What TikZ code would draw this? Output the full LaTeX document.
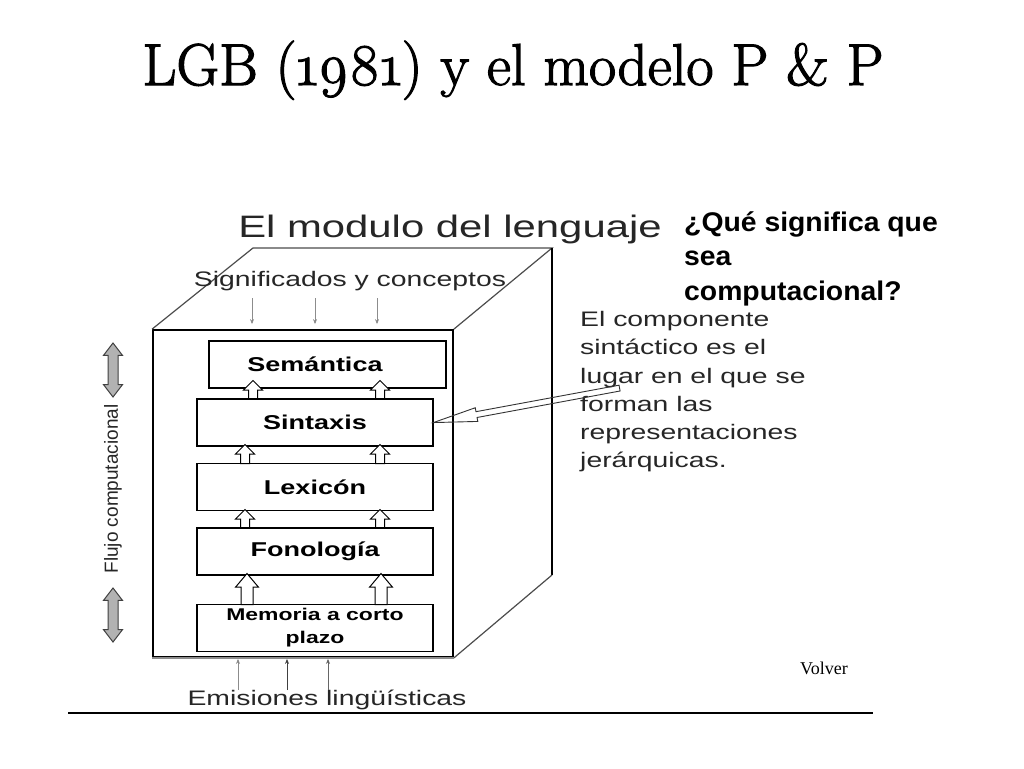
\documentclass[tikz,border=0pt]{standalone}
\usepackage{fontspec}
\usepackage{tikz}
\usetikzlibrary{arrows.meta}
\usetikzlibrary{shapes.arrows}
\usetikzlibrary{calc}
\newfontfamily\titlefont[Numbers=OldStyle,FakeBold=2]{Latin Modern Roman}
\newfontfamily\imgfont[FakeStretch=1.35]{Liberation Sans}
\newfontfamily\slidefont[FakeStretch=1.05]{Liberation Sans}
\newfontfamily\plainsans{Liberation Sans}
\newfontfamily\volverfont{Liberation Serif}
\tikzset{
    layer/.style = {draw=black, line width=1.6pt, minimum width=236pt, minimum height=47pt, inner sep=0pt, align=center, font=\imgfont\bfseries\fontsize{20}{22}\selectfont},
    uparrow/.style = {single arrow, draw=black, fill=white, line width=1pt, rotate=90, anchor=tail, inner xsep=0pt, inner ysep=4pt, minimum width=0pt, single arrow head extend=5pt, single arrow tip angle=90, minimum height=18pt},
    bigup/.style = {uparrow, inner ysep=5.5pt, single arrow head extend=5.5pt, single arrow tip angle=80, minimum height=31pt},
    flowarrow/.style = {double arrow, draw=black!75, fill=black!30, line width=1pt, rotate=90, inner xsep=0pt, inner ysep=4.5pt, minimum width=0pt, double arrow head extend=4.5pt, double arrow tip angle=75, minimum height=54pt},
    pointer/.style = {single arrow, draw=black!80, line width=0.9pt, inner xsep=0pt, inner ysep=2.5pt, minimum width=0pt, single arrow head extend=4pt, single arrow tip angle=18, anchor=tail},
    thinarrow/.style = {-{Stealth[length=5pt,width=4pt,fill=black]}, line width=1pt, draw=black!45},
    imgtext/.style = {font=\imgfont\fontsize{21}{28.3}\selectfont, text=black!85, inner sep=0pt}
}

\begin{document}
\begin{tikzpicture}[x=1pt, y=-1pt]
    \path[fill=white, use as bounding box] (0,0) rectangle (1024,768);

    % title
    \node[font=\titlefont\fontsize{59}{62}\selectfont, anchor=base] (title) at (513,85) {LGB (1981) y el modelo P \& P};

    % cube
    \node[draw=black, line width=1.8pt, minimum width=300pt, minimum height=327pt, inner sep=0pt] (front) at (303,493.5) {};
    \coordinate (btl) at (253,248);
    \coordinate (btr) at (552,248);
    \coordinate (bbr) at (552,575);
    \draw[black!70, line width=1.2pt] (front.north west) -- (btl) -- (btr) -- (front.north east);
    \draw[black, line width=1.8pt] (btr) -- (bbr);
    \draw[black!70, line width=1.2pt] (bbr) -- (front.south east);
    \draw[black!45, line width=1.8pt] (front.south west) -- (front.south east);

    \node[imgtext, font=\imgfont\fontsize{31}{31}\selectfont, anchor=base] (modulo) at (450,237) {El modulo del lenguaje};
    \node[imgtext, anchor=base] (signif) at (350,286) {Significados y conceptos};
    \node[imgtext, anchor=base] (emis) at (327,705) {Emisiones lingüísticas};

    % layers
    \node[layer, minimum width=237pt] (sem) at (327.5,364.5) {\hspace*{-25pt}Semántica};
    \node[layer] (sin) at (315,422.5) {Sintaxis};
    \node[layer] (lex) at (315,487) {Lexicón};
    \node[layer] (fon) at (315,551.5) {Fonología};
    \node[layer, font=\imgfont\bfseries\fontsize{17}{23}\selectfont] (mem) at (315,628) {Memoria a corto\\plazo};

    \node[uparrow] (ua1) at (253,399) {};
    \node[uparrow] (ua2) at (380,399) {};
    \node[uparrow, minimum height=19pt] (ub1) at (245,464) {};
    \node[uparrow, minimum height=19pt] (ub2) at (380,464) {};
    \node[uparrow] (uc1) at (245,528) {};
    \node[uparrow] (uc2) at (380,528) {};
    \node[bigup] (ud1) at (247,605) {};
    \node[bigup] (ud2) at (381,605) {};

    % inputs and outputs
    \coordinate (sig1) at (252,298);
    \coordinate (sig2) at (315,298);
    \coordinate (sig3) at (377,298);
    \draw[thinarrow, shorten >=5pt] (sig1) -- (sig1 |- front.north);
    \draw[thinarrow, shorten >=5pt] (sig2) -- (sig2 |- front.north);
    \draw[thinarrow, shorten >=5pt] (sig3) -- (sig3 |- front.north);
    \coordinate (emi1) at (238,690);
    \coordinate (emi2) at (287,690);
    \coordinate (emi3) at (328,690);
    \draw[thinarrow, shorten >=1pt] (emi1) -- (emi1 |- front.south);
    \draw[thinarrow, draw=black!75, shorten >=1pt] (emi2) -- (emi2 |- front.south);
    \draw[thinarrow, draw=black!60, shorten >=1pt] (emi3) -- (emi3 |- front.south);

    % flujo
    \node[flowarrow] (fl1) at (113,370) {};
    \node[flowarrow] (fl2) at (113,615) {};
    \node[rotate=90, inner sep=0pt, font=\plainsans\fontsize{19}{19}\selectfont, text=black!85] (flujo) at (113,489) {Flujo computacional};

    % right side
    \node[anchor=north west, inner sep=0pt, align=left, font=\slidefont\bfseries\fontsize{27}{34.5}\selectfont] (question) at (684,211) {¿Qué significa que\\sea\\computacional?};
    \node[imgtext, anchor=north west, align=left] (comp) at (580,311) {El componente\\sintáctico es el\\lugar en el que se\\forman las\\representaciones\\jerárquicas.};

    \coordinate (ptail) at (620,388);
    \path let \p1 = ($(sin.east)-(ptail)$), \n1 = {atan2(\y1,\x1)}, \n2 = {veclen(\x1,\y1)} in
        node[pointer, rotate=\n1, minimum height=\n2] (ptr) at (ptail) {};

    \node[font=\volverfont\fontsize{18}{18}\selectfont, anchor=base] (volver) at (824,674) {Volver};
    \coordinate (rulel) at (68,713);
    \coordinate (ruler) at (873,713);
    \draw[line width=2pt] (rulel) -- (ruler);
\end{tikzpicture}
\end{document}
